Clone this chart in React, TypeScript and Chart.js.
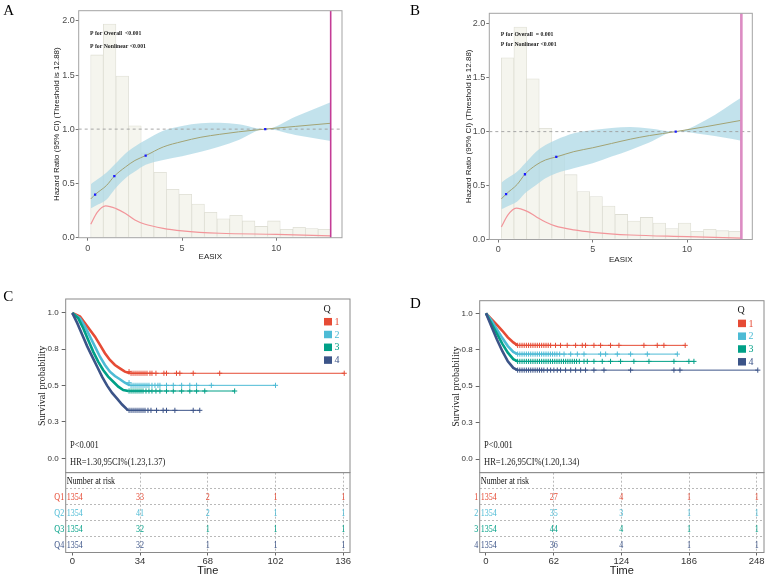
import React, { useEffect, useRef } from "react";
import { Chart, registerables } from "chart.js";

Chart.register(...registerables);

const SANS = '"Liberation Sans", Arial, Helvetica, sans-serif';
const NARROW = '"Liberation Sans Narrow", "Liberation Sans", Arial, sans-serif';
const SERIF = '"Liberation Serif", "Times New Roman", Times, serif';

// ---------------- EASIX restricted cubic spline (A, B) ----------------
const EASIX_THRESHOLD = 12.88;
const EASIX_X_TICKS = [0, 5, 10];
const HR_Y_TICKS = [0, 0.5, 1, 1.5, 2];

// EASIX distribution histogram (bin centres / heights on the HR axis)
const HIST_CENTERS = [0.49, 1.16, 1.83, 2.5, 3.17, 3.84, 4.51, 5.18, 5.85, 6.52, 7.19, 7.86, 8.53, 9.2, 9.87, 10.54, 11.21, 11.88, 12.55];
const HIST_HEIGHTS = [1.686, 1.972, 1.49, 1.03, 0.78, 0.6, 0.444, 0.397, 0.308, 0.231, 0.17, 0.203, 0.151, 0.1, 0.151, 0.074, 0.092, 0.08, 0.074];

// Panel A
const A_X = [0.16, 0.39, 1, 1.41, 2, 2.5, 3.07, 4, 5, 6, 7, 8, 9.41, 11, 12.88];
const A_HR = [0.354, 0.395, 0.48, 0.565, 0.65, 0.71, 0.755, 0.835, 0.885, 0.925, 0.952, 0.975, 1.0, 1.025, 1.054];
const A_UPPER = [0.49, 0.52, 0.6, 0.67, 0.775, 0.84, 0.9, 0.985, 1.03, 1.054, 1.06, 1.045, 1.0, 1.115, 1.248];
const A_LOWER = [0.268, 0.29, 0.35, 0.44, 0.545, 0.607, 0.67, 0.715, 0.75, 0.79, 0.84, 0.9, 1.0, 0.946, 0.89];
const A_KNOT_X = [0.39, 1.41, 3.07, 9.41];
const A_KNOT_HR = [0.395, 0.565, 0.755, 1.0];
const A_DENS_X = [0.16, 0.5, 0.95, 1.5, 2, 2.5, 3, 4, 5, 7, 10, 12.88];
const A_DENS_Y = [0.12, 0.23, 0.29, 0.265, 0.22, 0.16, 0.123, 0.083, 0.06, 0.037, 0.027, 0.012];
const A_NOTES = ["P for Overall  <0.001", "P for Nonlinear <0.001"];

// Panel B
const B_X = [0.16, 0.41, 1, 1.41, 2, 2.5, 3.07, 4, 5, 6, 7, 8, 9.4, 11, 12.88];
const B_HR = [0.375, 0.42, 0.51, 0.604, 0.69, 0.737, 0.765, 0.814, 0.85, 0.89, 0.93, 0.963, 1.0, 1.046, 1.105];
const B_UPPER = [0.526, 0.56, 0.63, 0.705, 0.814, 0.876, 0.925, 0.985, 1.015, 1.034, 1.043, 1.03, 1.0, 1.108, 1.316];
const B_LOWER = [0.279, 0.3, 0.35, 0.427, 0.505, 0.567, 0.613, 0.66, 0.706, 0.768, 0.83, 0.898, 1.0, 0.97, 0.916];
const B_KNOT_X = [0.41, 1.41, 3.07, 9.4];
const B_KNOT_HR = [0.42, 0.604, 0.765, 1.0];
const B_DENS_X = [0.16, 0.5, 0.95, 1.5, 2, 2.5, 3, 4, 5, 7, 10, 12.88];
const B_DENS_Y = [0.115, 0.225, 0.29, 0.262, 0.21, 0.16, 0.124, 0.087, 0.065, 0.04, 0.025, 0.01];
const B_NOTES = ["P for Overall  = 0.001", "P for Nonlinear <0.001"];

// ---------------- Kaplan–Meier by quartile (C, D) ----------------
const Q_COLORS = ["#E64B35", "#4DBBD5", "#00A087", "#3C5488"];
const Q_LEGEND = ["1", "2", "3", "4"];
const KM_Y_TICKS = [0, 0.25, 0.5, 0.75, 1];

// Panel C
const C_TIMES = [0, 34, 68, 102, 136];
const C_Q1_T = [0, 3.9, 6.4, 8.9, 11.4, 13.9, 16.4, 18.9, 21.4, 23.9, 26.4, 28.9, 136.5];
const C_Q1_S = [1, 0.975, 0.929, 0.883, 0.837, 0.78, 0.723, 0.677, 0.642, 0.619, 0.596, 0.585, 0.585];
const C_Q2_T = [0, 3.9, 6.4, 8.9, 11.4, 13.9, 16.4, 18.9, 21.4, 23.9, 26.4, 28.9, 102];
const C_Q2_S = [1, 0.963, 0.906, 0.837, 0.768, 0.699, 0.642, 0.596, 0.566, 0.544, 0.52, 0.502, 0.502];
const C_Q3_T = [0, 3.0, 5.5, 8.0, 10.5, 13.0, 15.5, 18.0, 20.6, 23.1, 25.6, 28.1, 81.5];
const C_Q3_S = [1, 0.963, 0.895, 0.814, 0.734, 0.665, 0.608, 0.562, 0.527, 0.493, 0.47, 0.463, 0.463];
const C_Q4_T = [0, 2.5, 5, 7.5, 10, 12.5, 15, 17.5, 20, 22.5, 25, 28, 64];
const C_Q4_S = [1, 0.93, 0.85, 0.77, 0.7, 0.63, 0.56, 0.5, 0.45, 0.41, 0.37, 0.33, 0.33];
const C_Q1_CENSOR = [28.5, 29.5, 30.5, 31.5, 32.5, 33.5, 34.5, 35.5, 36.5, 37.5, 39, 40, 42, 46, 47.3, 52.3, 54, 60.7, 74, 136.5];
const C_Q2_CENSOR = [28.5, 29.5, 30.5, 31.5, 32.5, 33.5, 34.5, 35.5, 36.5, 37.5, 38.5, 40, 41.5, 43, 44, 47.3, 50.7, 54.9, 59, 62.4, 69.8, 102];
const C_Q3_CENSOR = [28.5, 29.5, 30.5, 31.5, 32.5, 33.5, 34.5, 35.5, 37, 38.5, 40, 42, 44, 47.3, 50.7, 54.9, 59, 62.4, 66.5, 81.5];
const C_Q4_CENSOR = [28.5, 29.5, 30.5, 31.5, 32.5, 33.5, 34.5, 35.5, 36.5, 38, 39.5, 42.3, 45.6, 47.3, 51.5, 60.7, 64];
const C_RISK_Q1 = [1354, 33, 2, 1, 1];
const C_RISK_Q2 = [1354, 41, 2, 1, 1];
const C_RISK_Q3 = [1354, 32, 1, 1, 1];
const C_RISK_Q4 = [1354, 32, 1, 1, 1];
const C_ROW_LABELS = ["Q1", "Q2", "Q3", "Q4"];

// Panel D
const D_TIMES = [0, 62, 124, 186, 248];
const D_Q1_T = [0, 5, 10, 15, 20, 25, 29, 182.5];
const D_Q1_S = [1, 0.96, 0.92, 0.88, 0.835, 0.8, 0.78, 0.78];
const D_Q2_T = [0, 5, 10, 15, 20, 25, 29, 175.3];
const D_Q2_S = [1, 0.95, 0.89, 0.83, 0.775, 0.735, 0.72, 0.72];
const D_Q3_T = [0, 5, 10, 15, 20, 25, 29, 190.5];
const D_Q3_S = [1, 0.93, 0.86, 0.79, 0.73, 0.685, 0.67, 0.67];
const D_Q4_T = [0, 5, 10, 15, 20, 25, 29, 249];
const D_Q4_S = [1, 0.91, 0.82, 0.74, 0.67, 0.625, 0.61, 0.61];
const D_Q1_CENSOR = [29, 31, 33, 35, 37, 39, 41, 43, 45, 47, 49, 51, 53, 55, 57, 59.2, 63.7, 68.3, 74.4, 82.1, 88.2, 91.2, 98.9, 105, 114.1, 121.8, 144.7, 156.9, 163, 182.5];
const D_Q2_CENSOR = [29, 31, 33, 35, 37, 39, 41, 43, 45, 47, 49, 51, 53, 55, 57, 59, 61, 63, 65, 67.5, 71.5, 77.6, 83.7, 89.8, 105, 109.6, 120.3, 132.5, 147.8, 175.3];
const D_Q3_CENSOR = [29, 31, 33, 35, 37, 39, 41, 43, 45, 47, 49, 51, 53, 55, 57, 59, 61, 63, 65, 67, 69, 71, 73, 75, 77, 79, 81, 83, 85.5, 89.8, 92.8, 98.9, 106.5, 114.1, 123.3, 135.5, 149.3, 172.2, 185.9, 190.5];
const D_Q4_CENSOR = [29, 31, 33, 35, 37, 39, 41, 43, 45, 47, 49, 51, 53, 56.2, 59.2, 62.2, 65.3, 68.3, 72.9, 77.6, 82.1, 86.7, 91.2, 98.9, 108.1, 132.5, 172.2, 177.7, 249];
const D_RISK_Q1 = [1354, 27, 4, 1, 1];
const D_RISK_Q2 = [1354, 35, 3, 1, 1];
const D_RISK_Q3 = [1354, 44, 4, 1, 1];
const D_RISK_Q4 = [1354, 36, 4, 1, 1];
const D_ROW_LABELS = ["1", "2", "3", "4"];

// ---------------- helpers ----------------
type Pt = { x: number; y: number };
type Area = { left: number; top: number; right: number; bottom: number };

const pts = (xs: number[], ys: number[]): Pt[] => xs.map((x, i) => ({ x, y: ys[i] }));

const fixedTicks = (values: number[]) => (scale: any) => {
  scale.ticks = values.map((v) => ({ value: v }));
};

// fixed axis size; label overhang is kept out of the layout
const fixedWidth = (w: number) => (s: any) => {
  s.width = w;
  s.paddingTop = 0;
  s.paddingBottom = 0;
};
const fixedHeight = (h: number) => (s: any) => {
  s.height = h;
  s.paddingLeft = 0;
  s.paddingRight = 0;
};

// survival value of a step curve at time t
const survAt = (ts: number[], ss: number[], t: number) => {
  let s = ss[0];
  for (let i = 0; i < ts.length; i++) if (ts[i] <= t) s = ss[i];
  return s;
};

function drawText(
  ctx: CanvasRenderingContext2D,
  text: string,
  x: number,
  y: number,
  font: string,
  color: string,
  align: CanvasTextAlign = "left",
  sx = 1,
  baseline: CanvasTextBaseline = "middle"
) {
  ctx.save();
  ctx.font = font;
  ctx.fillStyle = color;
  ctx.textAlign = align;
  ctx.textBaseline = baseline;
  ctx.translate(x, y);
  ctx.scale(sx, 1);
  ctx.fillText(text, 0, 0);
  ctx.restore();
}

const TABLE_FONT = `9.5px ${SERIF}`;
const TABLE_SX = 0.85;

const decor = {
  id: "decor",
  afterDatasetsDraw(chart: any) {
    const { ctx, chartArea: a } = chart;
    chart.data.datasets.forEach((ds: any, i: number) => {
      if (!ds.counts) return;
      const meta = chart.getDatasetMeta(i);
      meta.data.forEach((el: any, j: number) => {
        const txt = String(ds.counts[j]);
        ctx.save();
        ctx.font = TABLE_FONT;
        const w = ctx.measureText(txt).width * TABLE_SX;
        ctx.restore();
        let cx = el.x;
        if (cx - w / 2 < a.left + 1) cx = a.left + 1 + w / 2;
        drawText(ctx, txt, cx, el.y + 1, TABLE_FONT, ds.textColor, "center", TABLE_SX);
      });
      if (ds.rowLabel) {
        drawText(ctx, ds.rowLabel, a.left - 1.5, meta.data[0].y + 1, TABLE_FONT, ds.textColor, "right", TABLE_SX);
      }
    });
  },
  afterDraw(chart: any, _a: any, o: any) {
    const { ctx, chartArea: a } = chart;
    if (o.frameColor) {
      ctx.save();
      ctx.strokeStyle = o.frameColor;
      ctx.lineWidth = 1;
      ctx.strokeRect(a.left, a.top, a.right - a.left, a.bottom - a.top);
      ctx.restore();
    }
    if (o.header) {
      const y = chart.scales.y.getPixelForValue(o.header.row);
      drawText(ctx, o.header.text, a.left + 1, y + 1, TABLE_FONT, "#111", "left", TABLE_SX);
    }
    (o.notes || []).forEach((n: any) =>
      drawText(ctx, n.text, n.x, n.y, n.font, n.color || "#111", "left", n.sx || 1)
    );
    if (o.legend) {
      const L = o.legend;
      drawText(ctx, L.title, a.right - 23, a.top + 10, `10px ${SERIF}`, "#222", "center");
      L.labels.forEach((lab: string, i: number) => {
        const cy = a.top + 22.7 + 12.8 * i;
        ctx.save();
        ctx.fillStyle = L.colors[i];
        ctx.fillRect(a.right - 26, cy - 3.75, 8, 7.5);
        ctx.restore();
        drawText(ctx, lab, a.right - 15.5, cy + 0.5, `10px ${SERIF}`, L.colors[i], "left");
      });
    }
    if (o.panel) {
      drawText(ctx, o.panel.text, o.panel.x, o.panel.y, `15px ${SERIF}`, "#000", "left", 1, "alphabetic");
    }
  },
};

const baseOptions = {
  responsive: false,
  animation: false,
  devicePixelRatio: 1,
  events: [],
};

// ---------------- RCS panel ----------------
type RcsSpec = {
  W: number; H: number; area: Area;
  xMin: number; xMax: number; yMin: number; yMax: number;
  xs: number[]; hr: number[]; upper: number[]; lower: number[];
  knotX: number[]; knotHr: number[]; densX: number[]; densY: number[];
  notes: string[]; noteX: number; noteY: number[];
  yTitlePad: number; xTitlePad: number;
  panel: { text: string; x: number; y: number };
  thrColor: string; thrWidth: number;
};

function rcsConfig(p: RcsSpec): any {
  const tickFont = { family: SANS, size: 9 };
  return {
    type: "scatter",
    plugins: [decor],
    data: {
      datasets: [
        {
          type: "bar",
          data: pts(HIST_CENTERS, HIST_HEIGHTS),
          backgroundColor: "#F5F5EE",
          borderColor: "#DEDED4",
          borderWidth: 0.8,
          barPercentage: 1,
          categoryPercentage: 1,
          order: 20,
        },
        {
          type: "line",
          data: pts(p.xs, p.upper),
          borderColor: "rgba(0,0,0,0)",
          borderWidth: 0,
          pointRadius: 0,
          fill: "+1",
          backgroundColor: "rgba(173,216,230,0.75)",
          cubicInterpolationMode: "monotone",
          order: 15,
        },
        {
          type: "line",
          data: pts(p.xs, p.lower),
          borderColor: "rgba(0,0,0,0)",
          borderWidth: 0,
          pointRadius: 0,
          fill: false,
          cubicInterpolationMode: "monotone",
          order: 15,
        },
        {
          type: "line",
          data: pts(p.densX, p.densY),
          borderColor: "#F2959A",
          borderWidth: 1.2,
          pointRadius: 0,
          fill: false,
          cubicInterpolationMode: "monotone",
          order: 12,
        },
        {
          type: "line",
          data: [{ x: p.xMin, y: 1 }, { x: p.xMax, y: 1 }],
          borderColor: "#9d9d9d",
          borderWidth: 0.9,
          borderDash: [3, 3],
          pointRadius: 0,
          fill: false,
          order: 11,
        },
        {
          type: "line",
          data: pts(p.xs, p.hr),
          borderColor: "#A2A274",
          borderWidth: 1,
          pointRadius: 0,
          fill: false,
          cubicInterpolationMode: "monotone",
          order: 10,
        },
        {
          type: "scatter",
          data: pts(p.knotX, p.knotHr),
          pointStyle: "rect",
          pointRadius: 1.6,
          backgroundColor: "#1a1aff",
          borderColor: "#1a1aff",
          borderWidth: 0,
          order: 5,
        },
        {
          type: "line",
          data: [{ x: EASIX_THRESHOLD, y: p.yMin }, { x: EASIX_THRESHOLD, y: p.yMax }],
          borderColor: p.thrColor,
          borderWidth: p.thrWidth,
          pointRadius: 0,
          fill: false,
          order: 1,
        },
      ],
    },
    options: {
      ...baseOptions,
      layout: { autoPadding: false, padding: { left: 0, top: p.area.top, right: p.W - p.area.right, bottom: 0 } },
      plugins: {
        legend: { display: false },
        tooltip: { enabled: false },
        decor: {
          frameColor: "#a3a3a3",
          notes: p.notes.map((t, i) => ({ text: t, x: p.noteX, y: p.noteY[i], font: `bold 7px ${SERIF}`, sx: 0.82, color: "#222" })),
          panel: p.panel,
        },
      },
      scales: {
        x: {
          type: "linear",
          offset: false,
          min: p.xMin,
          max: p.xMax,
          afterBuildTicks: fixedTicks(EASIX_X_TICKS),
          afterFit: fixedHeight(p.H - p.area.bottom),
          ticks: { font: tickFont, color: "#4d4d4d", padding: 2 },
          grid: { display: true, offset: false, drawOnChartArea: false, drawTicks: true, tickLength: 3, color: "#777", tickColor: "#777" },
          border: { display: false },
          title: { display: true, text: "EASIX", font: { family: SANS, size: 8 }, color: "#222", padding: { top: 0, bottom: p.xTitlePad } },
        },
        y: {
          type: "linear",
          min: p.yMin,
          max: p.yMax,
          afterBuildTicks: fixedTicks(HR_Y_TICKS),
          afterFit: fixedWidth(p.area.left),
          ticks: { font: tickFont, color: "#4d4d4d", padding: 1, callback: (v: any) => Number(v).toFixed(1) },
          grid: { display: true, drawOnChartArea: false, drawTicks: true, tickLength: 3, color: "#777", tickColor: "#777" },
          border: { display: false },
          title: {
            display: true,
            text: "Hazard Ratio (95% CI) (Threshold is 12.88)",
            font: { family: SANS, size: 8 },
            color: "#222",
            padding: { top: p.yTitlePad, bottom: 0 },
          },
        },
      },
    },
  };
}

// ---------------- KM panel ----------------
type Group = { t: number[]; s: number[]; censor: number[]; color: string };
type KmSpec = {
  W: number; H: number; area: Area;
  xMin: number; xMax: number; yMin: number; yMax: number;
  groups: Group[];
  yTitlePad: number;
  pText: string; hrText: string; noteX: number; pY: number; hrY: number;
  panel: { text: string; x: number; y: number };
};

function kmConfig(k: KmSpec): any {
  const datasets: any[] = [];
  k.groups.forEach((g, gi) => {
    datasets.push({
      type: "line",
      data: pts(g.t, g.s),
      borderColor: g.color,
      borderWidth: 1,
      pointRadius: 0,
      tension: 0,
      fill: false,
      order: 10 + (3 - gi),
      segment: { borderWidth: (c: any) => (c.p0.parsed.y !== c.p1.parsed.y ? 2.6 : 1) },
    });
    datasets.push({
      type: "scatter",
      data: g.censor.map((t) => ({ x: t, y: survAt(g.t, g.s, t) })),
      pointStyle: "cross",
      pointRadius: 2.6,
      borderWidth: 1,
      borderColor: g.color,
      backgroundColor: g.color,
      order: 3 - gi,
    });
  });
  return {
    type: "line",
    plugins: [decor],
    data: { datasets },
    options: {
      ...baseOptions,
      layout: { autoPadding: false, padding: { left: 0, top: k.area.top, right: k.W - k.area.right, bottom: k.H - k.area.bottom } },
      plugins: {
        legend: { display: false },
        tooltip: { enabled: false },
        decor: {
          frameColor: "#8a8a8a",
          notes: [
            { text: k.pText, x: k.noteX, y: k.pY, font: `10px ${SERIF}`, sx: 0.85, color: "#222" },
            { text: k.hrText, x: k.noteX, y: k.hrY, font: `10px ${SERIF}`, sx: 0.85, color: "#222" },
          ],
          legend: { title: "Q", labels: Q_LEGEND, colors: Q_COLORS },
          panel: k.panel,
        },
      },
      scales: {
        x: { type: "linear", display: false, min: k.xMin, max: k.xMax },
        y: {
          type: "linear",
          min: k.yMin,
          max: k.yMax,
          afterBuildTicks: fixedTicks(KM_Y_TICKS),
          afterFit: fixedWidth(k.area.left),
          ticks: { font: { family: SANS, size: 8 }, color: "#333", padding: 3, callback: (v: any) => Number(v).toFixed(1) },
          grid: { display: true, drawOnChartArea: false, drawTicks: true, tickLength: 4, color: "#666", tickColor: "#666" },
          border: { display: false },
          title: {
            display: true,
            text: "Survival probability",
            font: { family: SERIF, size: 10 },
            color: "#222",
            padding: { top: k.yTitlePad, bottom: 0 },
          },
        },
      },
    },
  };
}

// ---------------- risk table ----------------
type RiskSpec = {
  W: number; H: number; area: Area;
  xMin: number; xMax: number;
  times: number[]; rows: number[][]; rowLabels: string[];
  xTitle: string;
};

function riskConfig(r: RiskSpec): any {
  const datasets = r.rows.map((counts, ri) => ({
    type: "scatter",
    data: r.times.map((t) => ({ x: t, y: ri + 1.5 })),
    pointRadius: 0,
    counts,
    rowLabel: r.rowLabels[ri],
    textColor: Q_COLORS[ri],
  }));
  return {
    type: "scatter",
    plugins: [decor],
    data: { datasets },
    options: {
      ...baseOptions,
      layout: { autoPadding: false, padding: { left: 0, top: r.area.top, right: r.W - r.area.right, bottom: 0 } },
      plugins: {
        legend: { display: false },
        tooltip: { enabled: false },
        decor: { frameColor: "#8a8a8a", header: { text: "Number at risk", row: 0.5 } },
      },
      scales: {
        x: {
          type: "linear",
          min: r.xMin,
          max: r.xMax,
          afterBuildTicks: fixedTicks(r.times),
          afterFit: fixedHeight(r.H - r.area.bottom),
          ticks: { font: { family: NARROW, size: 9.5 }, color: "#333", padding: 0 },
          grid: {
            display: true,
            drawOnChartArea: true,
            drawTicks: true,
            tickLength: 3,
            tickColor: "#666",
            color: (c: any) => (c.tick && c.tick.value === 0 ? "rgba(0,0,0,0)" : "#b9b9b9"),
          },
          border: { display: false, dash: [2, 2] },
          title: { display: true, text: r.xTitle, font: { family: NARROW, size: 11 }, color: "#222", padding: { top: 0, bottom: 1 } },
        },
        y: {
          type: "linear",
          min: 0,
          max: 5,
          reverse: true,
          afterBuildTicks: fixedTicks([1, 2, 3, 4]),
          afterFit: fixedWidth(r.area.left),
          ticks: { display: false },
          grid: { display: true, drawOnChartArea: true, drawTicks: false, color: "#b9b9b9" },
          border: { display: false, dash: [2, 2] },
        },
      },
    },
  };
}

// ---------------- component ----------------
function ChartBox({ left, top, width, height, make }: { left: number; top: number; width: number; height: number; make: () => any }) {
  const ref = useRef<HTMLCanvasElement | null>(null);
  useEffect(() => {
    if (!ref.current) return;
    const chart = new Chart(ref.current, make());
    return () => chart.destroy();
  }, []);
  return (
    <canvas
      ref={ref}
      width={width}
      height={height}
      style={{ position: "absolute", left, top, width, height, display: "block" }}
    />
  );
}

const panelA = (): any =>
  rcsConfig({
    W: 384, H: 280, area: { left: 78.7, top: 10.7, right: 342, bottom: 237.7 },
    xMin: -0.48, xMax: 13.48, yMin: -0.004, yMax: 2.095,
    xs: A_X, hr: A_HR, upper: A_UPPER, lower: A_LOWER,
    knotX: A_KNOT_X, knotHr: A_KNOT_HR, densX: A_DENS_X, densY: A_DENS_Y,
    notes: A_NOTES, noteX: 90, noteY: [33.3, 45.7],
    yTitlePad: 52.2, xTitlePad: 18.2,
    panel: { text: "A", x: 3.3, y: 15 },
    thrColor: "#C43C96", thrWidth: 1.6,
  });

const panelB = (): any =>
  rcsConfig({
    W: 383, H: 280, area: { left: 105.3, top: 13.3, right: 368.3, bottom: 239.5 },
    xMin: -0.48, xMax: 13.46, yMin: -0.002, yMax: 2.099,
    xs: B_X, hr: B_HR, upper: B_UPPER, lower: B_LOWER,
    knotX: B_KNOT_X, knotHr: B_KNOT_HR, densX: B_DENS_X, densY: B_DENS_Y,
    notes: B_NOTES, noteX: 116.7, noteY: [34.3, 43.7],
    yTitlePad: 79.5, xTitlePad: 15.9,
    panel: { text: "B", x: 26, y: 15 },
    thrColor: "#DC8CC3", thrWidth: 2.6,
  });

const panelC = (): any =>
  kmConfig({
    W: 384, H: 193, area: { left: 65.7, top: 19, right: 350, bottom: 192.7 },
    xMin: -3.3, xMax: 139.4, yMin: -0.099, yMax: 1.096,
    groups: [
      { t: C_Q1_T, s: C_Q1_S, censor: C_Q1_CENSOR, color: Q_COLORS[0] },
      { t: C_Q2_T, s: C_Q2_S, censor: C_Q2_CENSOR, color: Q_COLORS[1] },
      { t: C_Q3_T, s: C_Q3_S, censor: C_Q3_CENSOR, color: Q_COLORS[2] },
      { t: C_Q4_T, s: C_Q4_S, censor: C_Q4_CENSOR, color: Q_COLORS[3] },
    ],
    yTitlePad: 36.7,
    pText: "P<0.001", hrText: "HR=1.30,95CI%(1.23,1.37)", noteX: 70, pY: 165.7, hrY: 182.7,
    panel: { text: "C", x: 3.3, y: 21 },
  });

const panelD = (): any =>
  kmConfig({
    W: 383, H: 193, area: { left: 95.7, top: 20.7, right: 380, bottom: 192.7 },
    xMin: -5.77, xMax: 254.7, yMin: -0.094, yMax: 1.0865,
    groups: [
      { t: D_Q1_T, s: D_Q1_S, censor: D_Q1_CENSOR, color: Q_COLORS[0] },
      { t: D_Q2_T, s: D_Q2_S, censor: D_Q2_CENSOR, color: Q_COLORS[1] },
      { t: D_Q3_T, s: D_Q3_S, censor: D_Q3_CENSOR, color: Q_COLORS[2] },
      { t: D_Q4_T, s: D_Q4_S, censor: D_Q4_CENSOR, color: Q_COLORS[3] },
    ],
    yTitlePad: 66.7,
    pText: "P<0.001", hrText: "HR=1.26,95CI%(1.20,1.34)", noteX: 100, pY: 165.3, hrY: 182.7,
    panel: { text: "D", x: 26, y: 28 },
  });

const riskC = (): any =>
  riskConfig({
    W: 384, H: 107, area: { left: 65.7, top: 0.7, right: 350, bottom: 80.5 },
    xMin: -3.3, xMax: 139.4, times: C_TIMES,
    rows: [C_RISK_Q1, C_RISK_Q2, C_RISK_Q3, C_RISK_Q4], rowLabels: C_ROW_LABELS,
    xTitle: "Tine",
  });

const riskD = (): any =>
  riskConfig({
    W: 383, H: 107, area: { left: 95.7, top: 0.7, right: 380, bottom: 80.5 },
    xMin: -5.77, xMax: 254.7, times: D_TIMES,
    rows: [D_RISK_Q1, D_RISK_Q2, D_RISK_Q3, D_RISK_Q4], rowLabels: D_ROW_LABELS,
    xTitle: "Time",
  });

export default function App() {
  return (
    <div style={{ position: "fixed", left: 0, top: 0, width: 767, height: 579, background: "#fff", overflow: "hidden" }}>
      <ChartBox left={0} top={0} width={384} height={280} make={panelA} />
      <ChartBox left={384} top={0} width={383} height={280} make={panelB} />
      <ChartBox left={0} top={280} width={384} height={193} make={panelC} />
      <ChartBox left={384} top={280} width={383} height={193} make={panelD} />
      <ChartBox left={0} top={472} width={384} height={107} make={riskC} />
      <ChartBox left={384} top={472} width={383} height={107} make={riskD} />
    </div>
  );
}
